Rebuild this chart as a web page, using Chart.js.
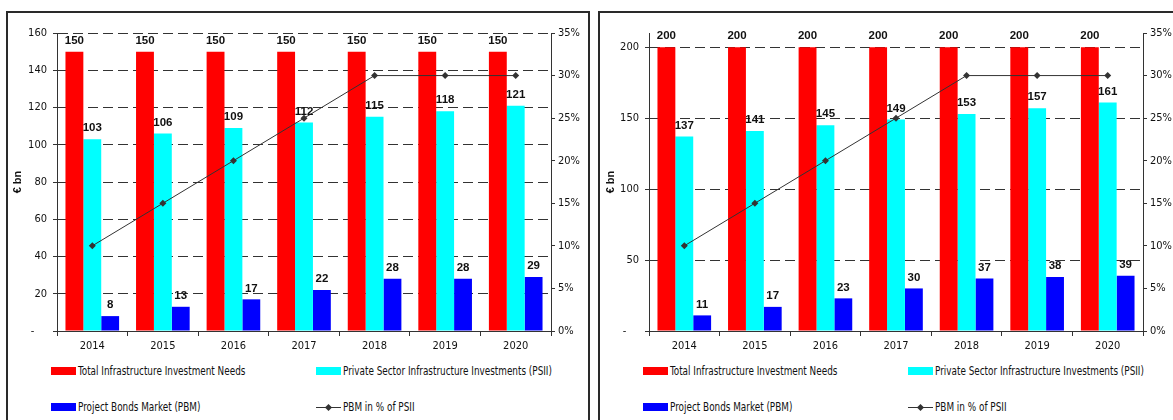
<!DOCTYPE html>
<html>
<head>
<meta charset="utf-8">
<script src="https://cdn.jsdelivr.net/npm/chart.js@4.4.1/dist/chart.umd.min.js"></script>
<style>
  html, body { margin: 0; padding: 0; background: #fff; width: 1173px; height: 420px; overflow: hidden; }
  .frame { position: absolute; box-sizing: border-box; border: 2px solid #2a2a2a; background: #fff; }
  canvas { position: absolute; }
  .lg { position: absolute; font-family: "DejaVu Sans Condensed", "Liberation Sans", sans-serif;
        font-size: 12px; line-height: 14px; color: #111; white-space: nowrap;
        transform: scaleX(0.82); transform-origin: 0 50%; }
  .sw { position: absolute; }
  .ln { position: absolute; height: 1px; background: #333; }
  .dm { position: absolute; width: 5px; height: 5px; background: #333; transform: rotate(45deg); }
</style>
</head>
<body>
<div class="frame" style="left:6px; top:11px; width:584px; height:430px;"></div>
<div class="frame" style="left:598px; top:11px; width:600px; height:430px;"></div>
<canvas id="chartA" width="578" height="350" style="left:8px; top:14px;"></canvas>
<canvas id="chartB" width="572" height="350" style="left:601px; top:14px;"></canvas>
<div id="legends"></div>
<script>
// Categories
const years = ['2014', '2015', '2016', '2017', '2018', '2019', '2020'];

// Scenario A (€ bn)
const needsA = [150, 150, 150, 150, 150, 150, 150];
const psiiA  = [103, 106, 109, 112, 115, 118, 121];
const pbmA   = [8, 13, 17, 22, 28, 28, 29];
const shareA = [10, 15, 20, 25, 30, 30, 30];

// Scenario B (€ bn)
const needsB = [200, 200, 200, 200, 200, 200, 200];
const psiiB  = [137, 141, 145, 149, 153, 157, 161];
const pbmB   = [11, 17, 23, 30, 37, 38, 39];
const shareB = [10, 15, 20, 25, 30, 30, 30];

// Axis ticks
const ticksA   = [0, 20, 40, 60, 80, 100, 120, 140, 160];
const ticksB   = [0, 50, 100, 150, 200];
const pctTicks = [0, 5, 10, 15, 20, 25, 30, 35];

// Series names
const nameNeeds = 'Total Infrastructure Investment Needs';
const namePsii  = 'Private Sector Infrastructure Investments (PSII)';
const namePbm   = 'Project Bonds Market (PBM)';
const nameShare = 'PBM in % of PSII';

const NARROW = '"DejaVu Sans Condensed", "Liberation Sans", sans-serif';
const BOLD = '"Liberation Sans", Arial, sans-serif';

// Value labels above each bar
const barValueLabels = {
  id: 'barValueLabels',
  afterDatasetsDraw(chart) {
    const ctx = chart.ctx;
    ctx.save();
    ctx.font = 'bold 11.5px ' + BOLD;
    ctx.fillStyle = '#111';
    ctx.textAlign = 'center';
    ctx.textBaseline = 'middle';
    chart.data.datasets.forEach((ds, i) => {
      if (ds.type !== 'bar') return;
      chart.getDatasetMeta(i).data.forEach((el, j) => {
        ctx.fillText(String(ds.data[j]), el.x, el.y - 11);
      });
    });
    ctx.restore();
  }
};

function buildChart(id, d, geo) {
  return new Chart(document.getElementById(id), {
    data: {
      labels: years,
      datasets: [
        { type: 'line', label: nameShare, data: d.share, yAxisID: 'yPct', order: 0,
          borderColor: '#333', borderWidth: 1, backgroundColor: '#333',
          pointStyle: 'rectRot', pointRadius: 3.5, pointBorderWidth: 0, fill: false, tension: 0 },
        { type: 'bar', label: nameNeeds, data: d.needs, yAxisID: 'y', order: 1,
          backgroundColor: '#ff0000', borderWidth: 0 },
        { type: 'bar', label: namePsii, data: d.psii, yAxisID: 'y', order: 1,
          backgroundColor: '#00ffff', borderWidth: 0 },
        { type: 'bar', label: namePbm, data: d.pbm, yAxisID: 'y', order: 1,
          backgroundColor: '#0000ff', borderWidth: 0 }
      ]
    },
    options: {
      responsive: false,
      animation: false,
      devicePixelRatio: 1,
      layout: { padding: { top: geo.top, left: 0, right: 0, bottom: 0 } },
      datasets: { bar: { categoryPercentage: 0.76, barPercentage: 1.0 } },
      plugins: { legend: { display: false }, tooltip: { enabled: false } },
      scales: {
        x: {
          offset: true,
          grid: { offset: true, drawOnChartArea: false, drawTicks: true, tickLength: 5,
                  tickColor: '#333', tickBorderDash: [] },
          border: { display: true, color: '#333', width: 1 },
          ticks: { font: { family: NARROW, size: 11 }, color: '#111', padding: 4, maxRotation: 0 },
          afterFit(s) { s.height = geo.bottom; }
        },
        y: {
          position: 'left',
          min: 0, max: d.max,
          afterBuildTicks(s) { s.ticks = d.ticks.map(v => ({ value: v })); },
          grid: { color: '#333', lineWidth: 1, drawTicks: true, tickLength: 4,
                  tickColor: '#333', tickBorderDash: [] },
          border: { display: true, color: '#333', width: 1, dash: [10, 5] },
          ticks: { font: { family: NARROW, size: 11 }, color: '#111', padding: 6,
                   callback: v => (v === 0 ? '-    ' : String(v)) },
          title: { display: true, text: '€ bn', color: '#111',
                   font: { family: BOLD, size: 11, weight: 'bold' }, padding: { top: 3, bottom: 0 } },
          afterFit(s) { s.width = geo.left; }
        },
        yPct: {
          position: 'right',
          min: 0, max: 35,
          afterBuildTicks(s) { s.ticks = pctTicks.map(v => ({ value: v })); },
          grid: { drawOnChartArea: false, drawTicks: true, tickLength: 4, tickColor: '#333', tickBorderDash: [] },
          border: { display: true, color: '#333', width: 1 },
          ticks: { font: { family: NARROW, size: 11 }, color: '#111', padding: 3,
                   callback: v => v + '%' },
          afterFit(s) { s.width = geo.right; }
        }
      }
    },
    plugins: [barValueLabels]
  });
}

buildChart('chartA',
  { needs: needsA, psii: psiiA, pbm: pbmA, share: shareA, max: 160, ticks: ticksA },
  { top: 19, left: 49, right: 35, bottom: 33 });
buildChart('chartB',
  { needs: needsB, psii: psiiB, pbm: pbmB, share: shareB, max: 210, ticks: ticksB },
  { top: 19, left: 48, right: 30, bottom: 33 });

// Two-column legend under each chart
function addLegend(dx) {
  const host = document.getElementById('legends');
  const swatch = (x, y, color) => {
    const s = document.createElement('div');
    s.className = 'sw';
    s.style.cssText = `left:${x + dx}px; top:${y}px; width:25px; height:8px; background:${color};`;
    host.appendChild(s);
  };
  const text = (x, cy, t) => {
    const s = document.createElement('div');
    s.className = 'lg';
    s.style.left = (x + dx) + 'px';
    s.style.top = (cy - 7) + 'px';
    s.textContent = t;
    host.appendChild(s);
  };
  swatch(51, 367, '#ff0000'); text(78, 371, nameNeeds);
  swatch(316, 367, '#00ffff'); text(343, 371, namePsii);
  swatch(51, 403, '#0000ff'); text(78, 407, namePbm);
  const l = document.createElement('div');
  l.className = 'ln';
  l.style.cssText = `left:${316 + dx}px; top:407px; width:25px;`;
  host.appendChild(l);
  const m = document.createElement('div');
  m.className = 'dm';
  m.style.cssText = `left:${326 + dx}px; top:405px;`;
  host.appendChild(m);
  text(343, 407, nameShare);
}
addLegend(0);
addLegend(592);
</script>
</body>
</html>
